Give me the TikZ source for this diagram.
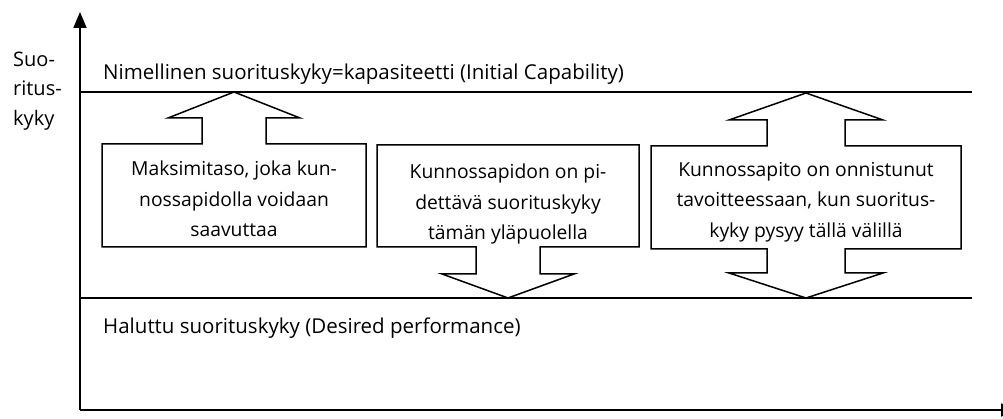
\documentclass[tikz,border=0pt]{standalone}
\usepackage{fontspec}
\setmainfont{Open Sans}
\usetikzlibrary{arrows.meta}
\begin{document}
\begin{tikzpicture}[x=1pt,y=-1pt,
  shape line/.style={draw=black, line width=1.5pt, line join=miter, fill=white},
  level line/.style={draw=black, line width=1.5pt},
  axis line/.style={draw=black, line width=1.8pt},
  label text/.style={inner sep=0pt, font=\fontsize{20.5}{30.5}\selectfont, text=black},
  axis text/.style={inner sep=0pt, font=\fontsize{20}{30}\selectfont, text=black},
  box text/.style={inner sep=0pt, align=center, font=\fontsize{19.3}{30.5}\selectfont, text=black},
]
\clip (0,0) rectangle (1003,419);
\fill[white] (0,0) rectangle (1003,419);

% axes
\coordinate (origin) at (80,410);
\coordinate (ytop) at (80,12);
\coordinate (xend) at (1017,410);
\draw[axis line, -{Triangle[length=16pt,width=13pt]}] (origin) -- (ytop);
\draw[axis line, -{Triangle[length=16pt,width=13pt]}] (origin) -- (xend);

% capability levels
\coordinate (capL) at (80,92);
\coordinate (capR) at (972,92);
\coordinate (desL) at (80,298);
\coordinate (desR) at (972,298);
\draw[level line] (capL) -- (capR);
\draw[level line] (desL) -- (desR);

% upward arrow box
\draw[shape line] (102,144) -- (202,144) -- (202,118) -- (168,118) -- (234,92)
  -- (300,118) -- (266,118) -- (266,144) -- (366,144) -- (366,247) -- (102,247) -- cycle;

% downward arrow box
\draw[shape line] (377,145) -- (639,145) -- (639,247) -- (540,247) -- (540,274)
  -- (574,274) -- (508,298) -- (442,274) -- (476,274) -- (476,247) -- (377,247) -- cycle;

% two-headed arrow box
\draw[shape line] (651,146) -- (767,146) -- (767,120) -- (729,120) -- (806,93)
  -- (883,120) -- (845,120) -- (845,146) -- (961,146) -- (961,249) -- (845,249)
  -- (845,273) -- (883,273) -- (806,298) -- (729,273) -- (767,273) -- (767,249)
  -- (651,249) -- cycle;

% texts
\node[axis text, anchor=base west] (ylab1) at (13,67) {Suo-};
\node[axis text, anchor=base west] (ylab2) at (13,96) {ritus-};
\node[axis text, anchor=base west] (ylab3) at (13,126) {kyky};

\node[label text, anchor=base west] (captext) at (103,80)
  {Nimellinen suorituskyky=kapasiteetti (Initial Capability)};
\node[label text, anchor=base west] (destext) at (103,333)
  {Haluttu suorituskyky (Desired performance)};

\node[box text] (maxtext) at (234,199)
  {Maksimitaso, joka kun-\\nossapidolla voidaan\\saavuttaa};
\node[box text] (mintext) at (508,204)
  {Kunnossapidon on pi-\\dettävä suorituskyky\\tämän yläpuolella};
\node[box text] (rangetext) at (806,202)
  {Kunnossapito on onnistunut\\tavoitteessaan, kun suoritus-\\kyky pysyy tällä välillä};
\end{tikzpicture}
\end{document}
